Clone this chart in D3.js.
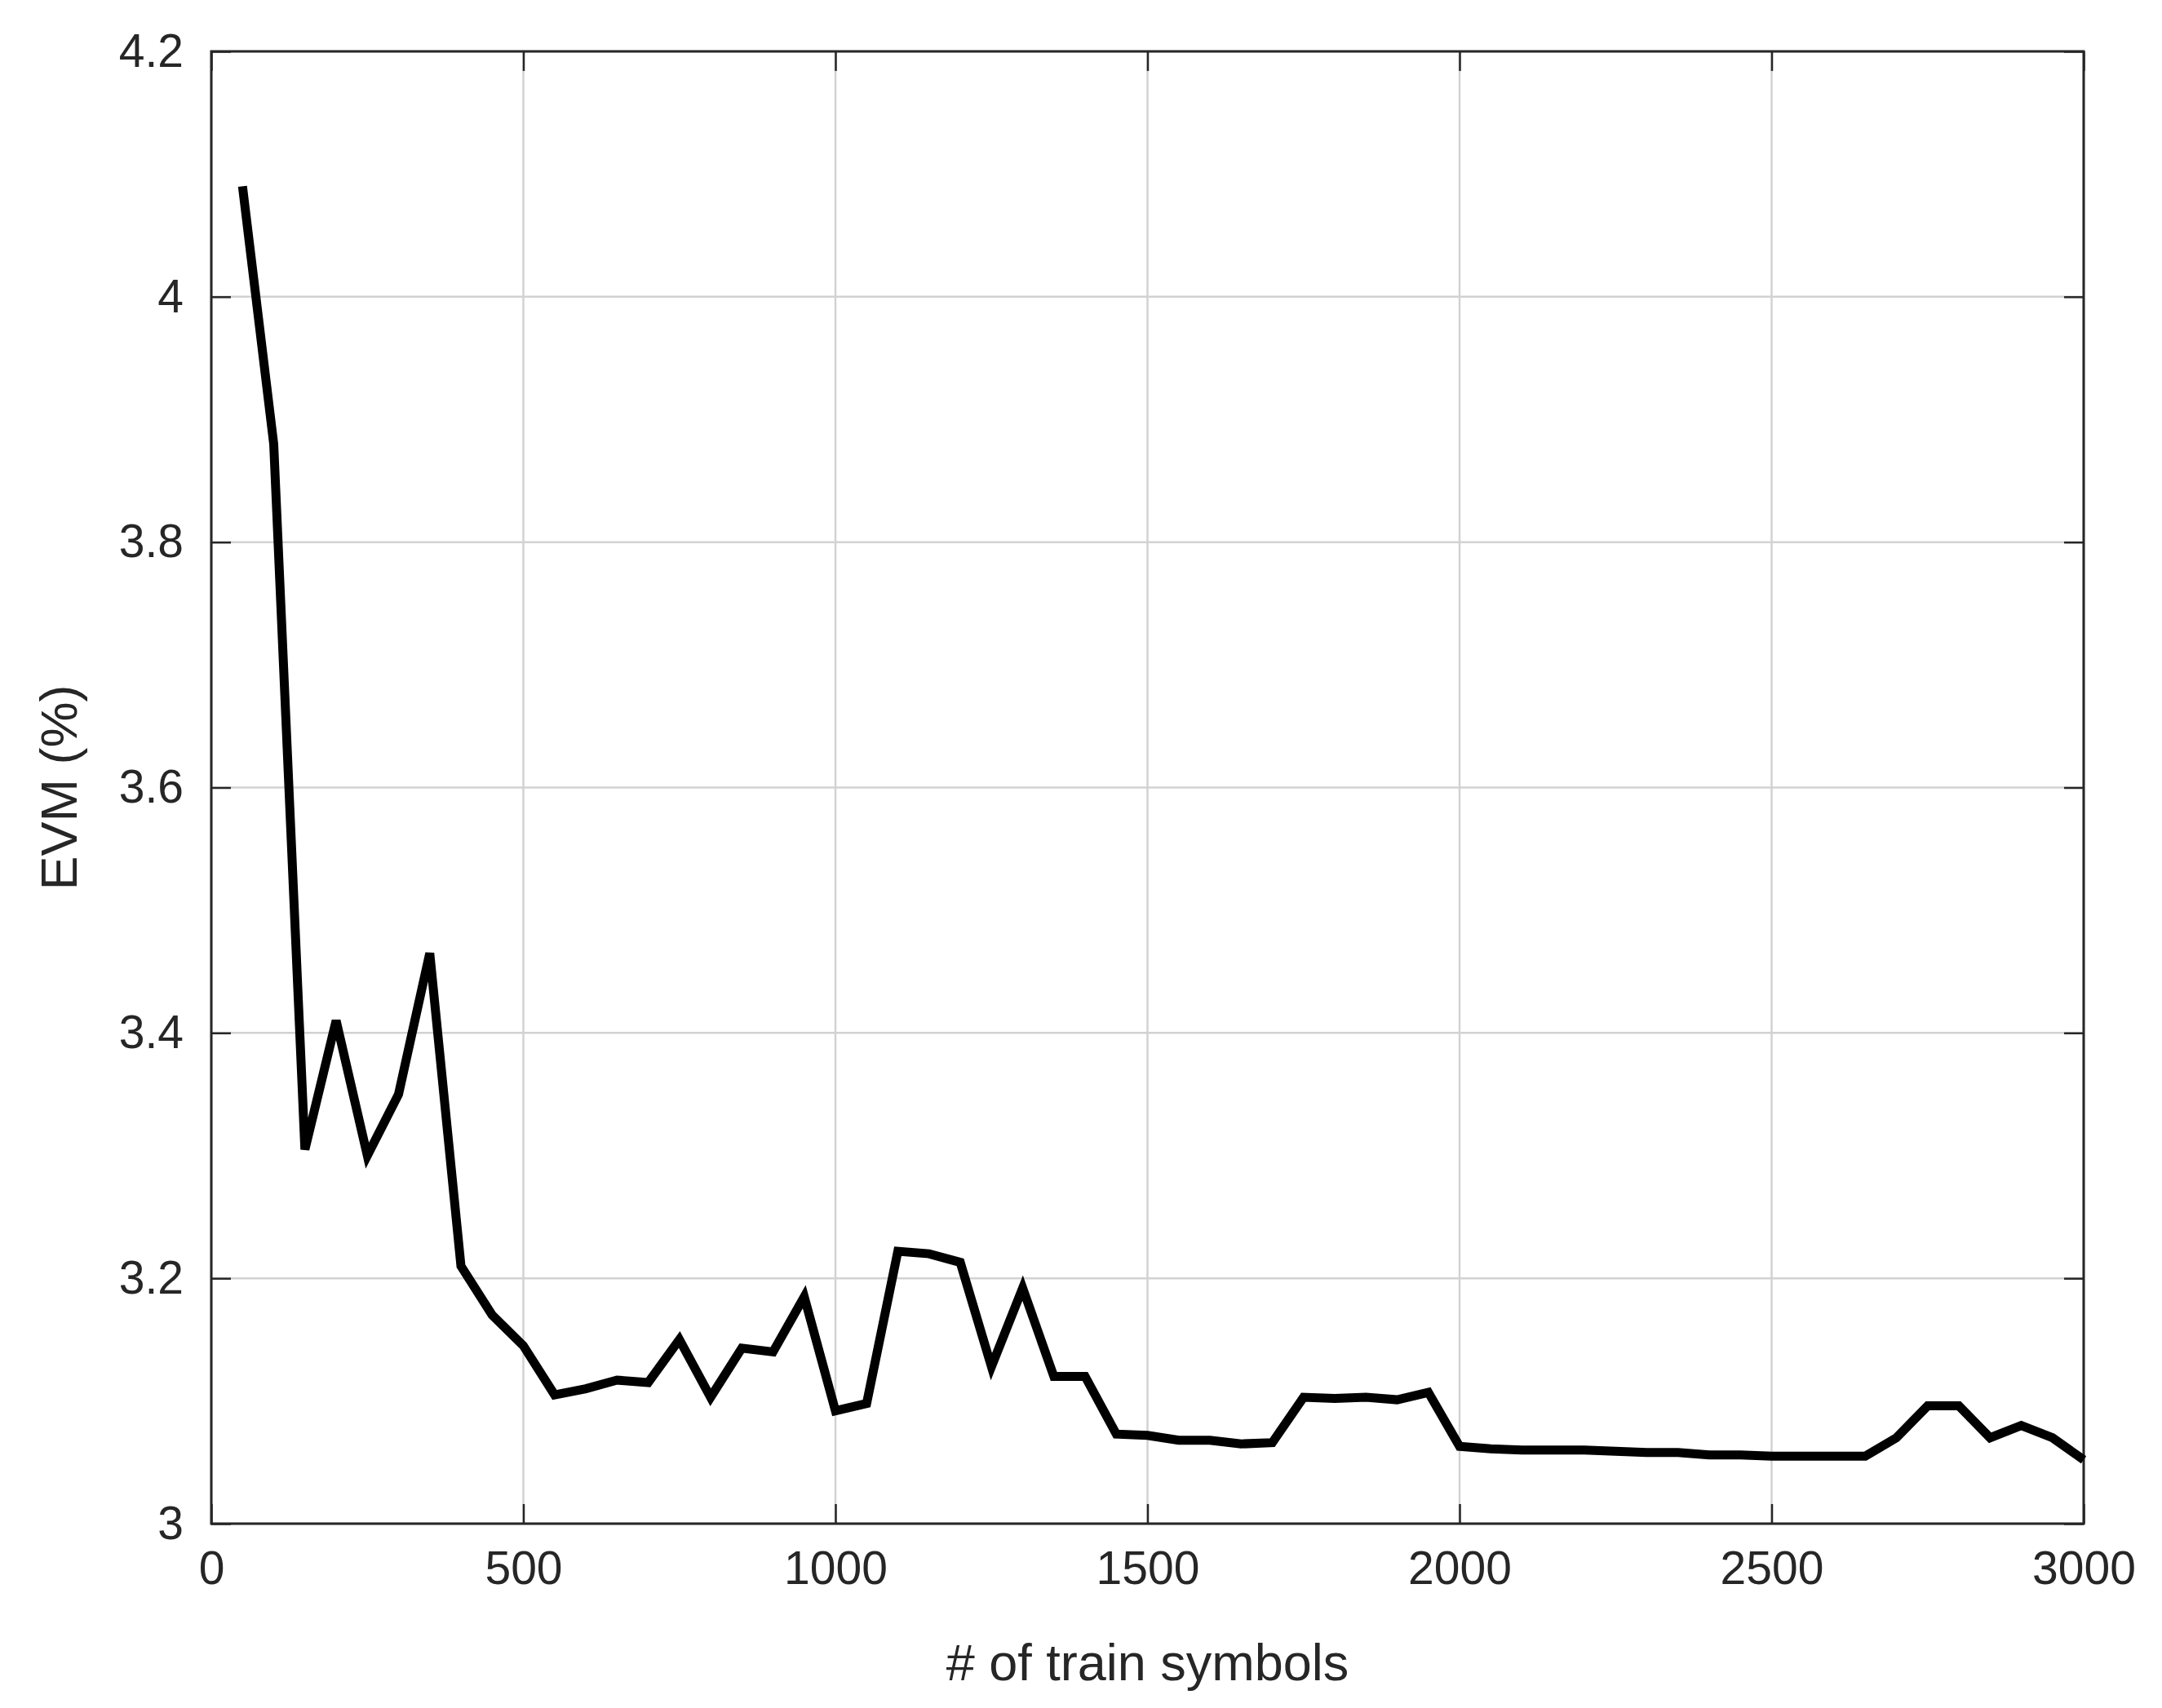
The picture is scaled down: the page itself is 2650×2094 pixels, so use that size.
<!DOCTYPE html>
<html><head><meta charset="utf-8">
<script src="https://cdn.jsdelivr.net/npm/d3@7/dist/d3.min.js"></script>
<style>body{margin:0;background:#fff}text{font-family:"Liberation Sans",Arial,sans-serif;fill:#262626}</style>
</head><body><svg id="c" width="2650" height="2094"></svg>
<script>
const xs=[50,100,150,200,250,300,350,400,450,500,550,600,650,700,750,800,850,900,950,1000,1050,1100,1150,1200,1250,1300,1350,1400,1450,1500,1550,1600,1650,1700,1750,1800,1850,1900,1950,2000,2050,2100,2150,2200,2250,2300,2350,2400,2450,2500,2550,2600,2650,2700,2750,2800,2850,2900,2950,3000];
const evm=[4.09,3.88,3.305,3.41,3.30,3.35,3.465,3.21,3.17,3.145,3.105,3.11,3.117,3.115,3.15,3.103,3.143,3.14,3.185,3.092,3.098,3.222,3.22,3.213,3.128,3.192,3.12,3.12,3.073,3.072,3.068,3.068,3.065,3.066,3.103,3.102,3.103,3.101,3.107,3.063,3.061,3.06,3.06,3.06,3.059,3.058,3.058,3.056,3.056,3.055,3.055,3.055,3.055,3.07,3.096,3.096,3.07,3.08,3.07,3.052];
const xTicks=[0,500,1000,1500,2000,2500,3000];
const yTicks=[3,3.2,3.4,3.6,3.8,4,4.2];
const L=259,R=2554,T=63,B=1868;
const svg=d3.select("#c");
const x=d3.scaleLinear().domain([0,3000]).range([L,R]);
const y=d3.scaleLinear().domain([3,4.2]).range([B,T]);
const g=svg.append("g");
g.selectAll(".gx").data(xTicks).join("line").attr("x1",d=>x(d)).attr("x2",d=>x(d)).attr("y1",T).attr("y2",B).attr("stroke","#d2d2d2").attr("stroke-width",2.5);
g.selectAll(".gy").data(yTicks).join("line").attr("y1",d=>y(d)).attr("y2",d=>y(d)).attr("x1",L).attr("x2",R).attr("stroke","#d2d2d2").attr("stroke-width",2.5);
const style=s=>{s.select(".domain").remove();s.selectAll("line").attr("stroke","#262626").attr("stroke-width",2.5);s.selectAll("text").attr("font-size",57).style("fill","#262626");};
svg.append("g").attr("transform",`translate(0,${B})`).call(d3.axisBottom(x).tickValues(xTicks).tickSize(-24).tickPadding(34).tickFormat(d3.format("d"))).call(style);
svg.append("g").attr("transform",`translate(0,${T})`).call(d3.axisTop(x).tickValues(xTicks).tickSize(-24).tickFormat("")).call(style);
svg.append("g").attr("transform",`translate(${L},0)`).call(d3.axisLeft(y).tickValues(yTicks).tickSize(-24).tickPadding(34).tickFormat(d=>String(+d.toFixed(1)))).call(style);
svg.append("g").attr("transform",`translate(${R},0)`).call(d3.axisRight(y).tickValues(yTicks).tickSize(-24).tickFormat("")).call(style);
svg.append("rect").attr("x",L).attr("y",T).attr("width",R-L).attr("height",B-T).attr("fill","none").attr("stroke","#262626").attr("stroke-width",3);
svg.append("path").datum(xs.map((v,i)=>[v,evm[i]])).attr("d",d3.line().x(d=>x(d[0])).y(d=>y(d[1]))).attr("fill","none").attr("stroke","#000").attr("stroke-width",11);
svg.append("text").attr("x",(L+R)/2).attr("y",2060).attr("text-anchor","middle").attr("font-size",63).text("# of train symbols");
svg.append("text").attr("transform",`translate(94,${(T+B)/2}) rotate(-90)`).attr("text-anchor","middle").attr("font-size",63).text("EVM (%)");
</script></body></html>
